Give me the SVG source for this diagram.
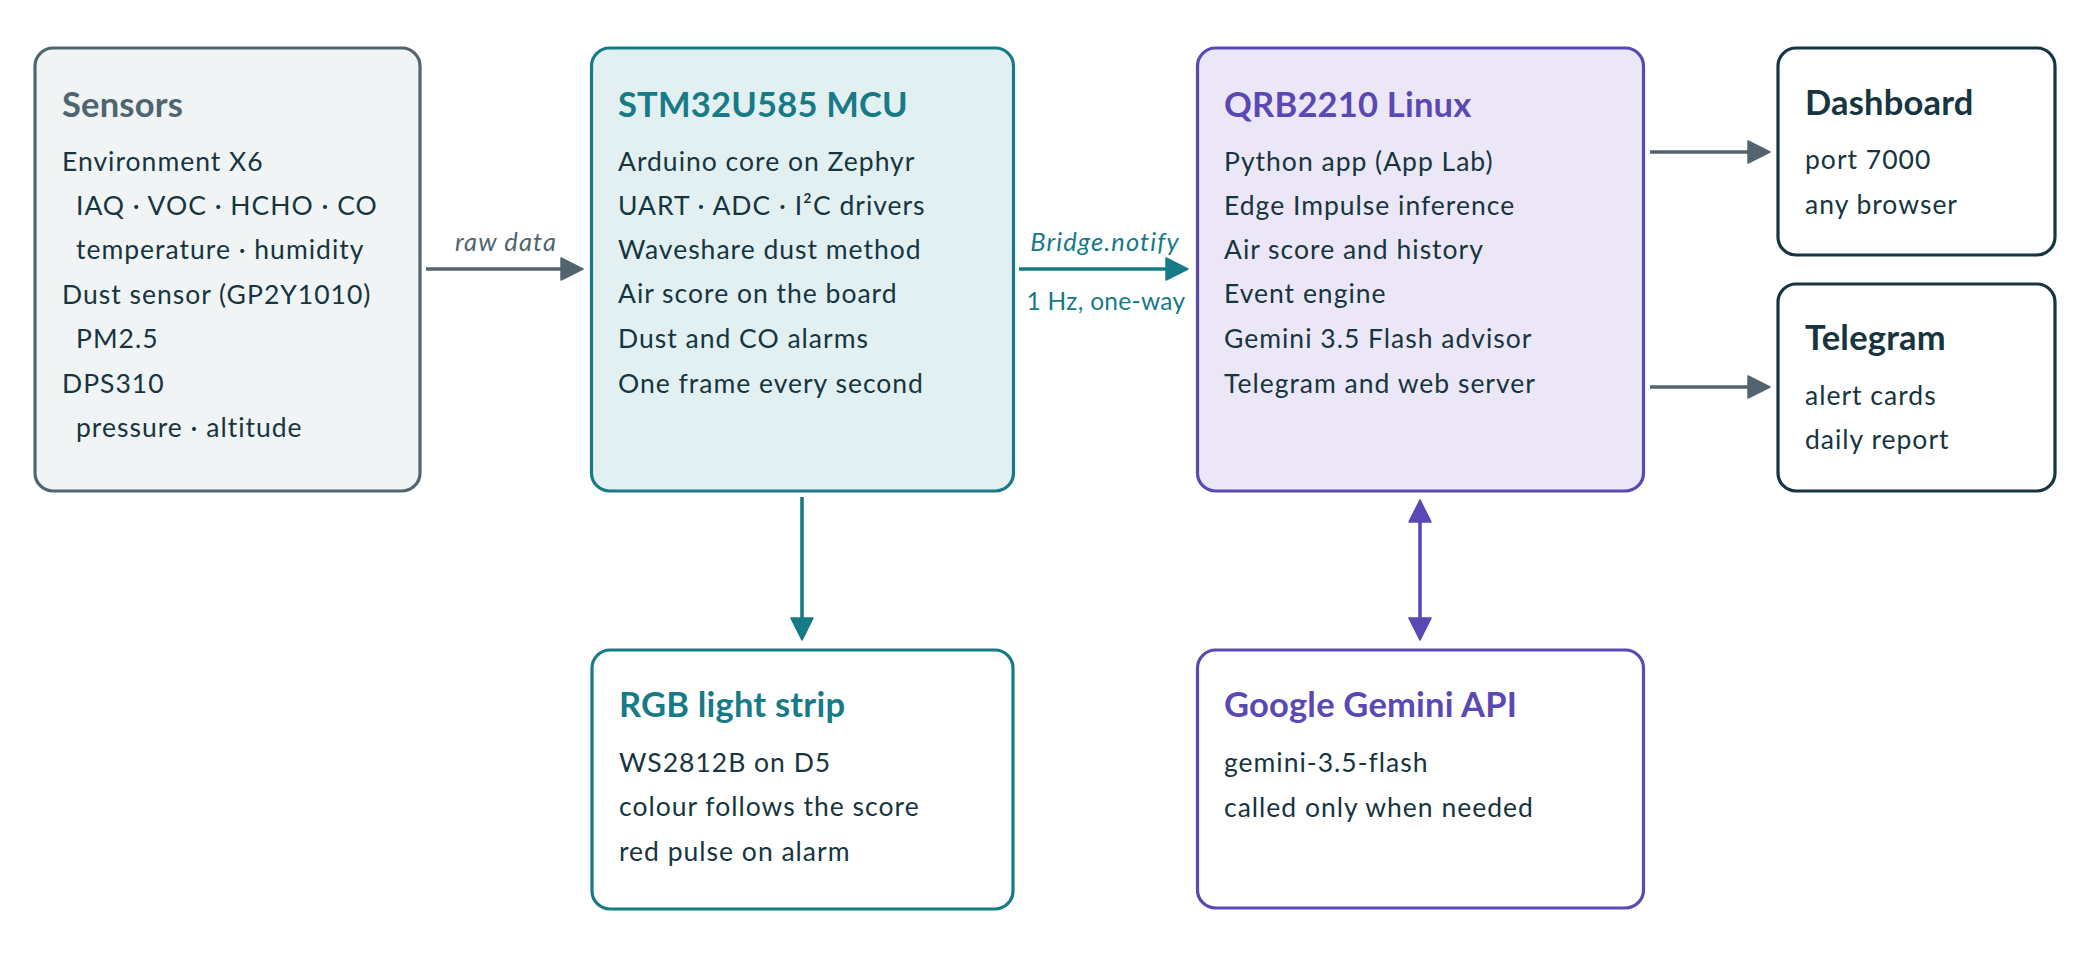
<svg xmlns="http://www.w3.org/2000/svg" width="2089" height="958" viewBox="0 0 2089 958">
<style>
text{font-family:Lato,"Noto Sans","Liberation Sans",sans-serif}
.box{stroke-width:3.2}
.t{font-size:34.5px;font-weight:700;letter-spacing:0.2px}
.b{font-size:26.5px;fill:#163540;letter-spacing:1px}
.li{font-size:25.5px;font-style:italic;letter-spacing:1.1px}
.lr{font-size:24.5px;letter-spacing:0.3px}
.ln{fill:none;stroke-width:3.6}
</style>
<defs>
<marker id="ag" markerUnits="userSpaceOnUse" markerWidth="24" markerHeight="24" viewBox="0 0 22 22" refX="11" refY="11" orient="auto"><path d="M1,1 L21,11 L1,21 z" fill="#52656e" stroke="#52656e" stroke-width="1.5" stroke-linejoin="round"/></marker>
<marker id="at" markerUnits="userSpaceOnUse" markerWidth="24" markerHeight="24" viewBox="0 0 22 22" refX="11" refY="11" orient="auto"><path d="M1,1 L21,11 L1,21 z" fill="#177a87" stroke="#177a87" stroke-width="1.5" stroke-linejoin="round"/></marker>
<marker id="ap" markerUnits="userSpaceOnUse" markerWidth="24" markerHeight="24" viewBox="0 0 22 22" refX="11" refY="11" orient="auto-start-reverse"><path d="M1,1 L21,11 L1,21 z" fill="#5a49b4" stroke="#5a49b4" stroke-width="1.5" stroke-linejoin="round"/></marker>
</defs>
<rect width="2089" height="958" fill="#ffffff"/>
<g id="connectors">
<line class="ln" x1="426" y1="269" x2="572" y2="269" stroke="#52656e" marker-end="url(#ag)"/>
<text class="li" x="506" y="251" text-anchor="middle" fill="#52656e">raw data</text>
<line class="ln" x1="1019" y1="269" x2="1177" y2="269" stroke="#177a87" marker-end="url(#at)"/>
<text class="li" x="1105" y="251" text-anchor="middle" fill="#177a87">Bridge.notify</text>
<text class="lr" x="1106" y="310" text-anchor="middle" fill="#177a87">1 Hz, one-way</text>
<line class="ln" x1="802" y1="497" x2="802" y2="629" stroke="#177a87" marker-end="url(#at)"/>
<line class="ln" x1="1650" y1="152" x2="1759" y2="152" stroke="#52656e" marker-end="url(#ag)"/>
<line class="ln" x1="1650" y1="387" x2="1759" y2="387" stroke="#52656e" marker-end="url(#ag)"/>
<line class="ln" x1="1420" y1="511" x2="1420" y2="629" stroke="#5a49b4" marker-start="url(#ap)" marker-end="url(#ap)"/>
</g>
<g id="sensors">
<rect class="box" x="35" y="48" width="385" height="443" rx="18" fill="#f0f4f5" stroke="#52656e"/>
<text class="t" x="62" y="117" fill="#4e6570">Sensors</text>
<text class="b" x="62" y="171">Environment X6</text>
<text class="b" x="76" y="215" letter-spacing="0.3">IAQ · VOC · HCHO · CO</text>
<text class="b" x="76" y="259" letter-spacing="1.3">temperature · humidity</text>
<text class="b" x="62" y="304">Dust sensor (GP2Y1010)</text>
<text class="b" x="76" y="348">PM2.5</text>
<text class="b" x="62" y="393">DPS310</text>
<text class="b" x="76" y="437">pressure · altitude</text>
</g>
<g id="mcu">
<rect class="box" x="591.5" y="48" width="422" height="443" rx="18" fill="#e2f0f1" stroke="#177a87"/>
<text class="t" x="618" y="117" fill="#177a87">STM32U585 MCU</text>
<text class="b" x="618" y="171">Arduino core on Zephyr</text>
<text class="b" x="618" y="215">UART · ADC · I²C drivers</text>
<text class="b" x="618" y="259">Waveshare dust method</text>
<text class="b" x="618" y="303">Air score on the board</text>
<text class="b" x="618" y="348">Dust and CO alarms</text>
<text class="b" x="618" y="393">One frame every second</text>
</g>
<g id="qrb">
<rect class="box" x="1197.5" y="48" width="446" height="443" rx="18" fill="#ece7f6" stroke="#5a49b4"/>
<text class="t" x="1224" y="117" fill="#5a49b4">QRB2210 Linux</text>
<text class="b" x="1224" y="171">Python app (App Lab)</text>
<text class="b" x="1224" y="215">Edge Impulse inference</text>
<text class="b" x="1224" y="259">Air score and history</text>
<text class="b" x="1224" y="303">Event engine</text>
<text class="b" x="1224" y="348">Gemini 3.5 Flash advisor</text>
<text class="b" x="1224" y="393">Telegram and web server</text>
</g>
<g id="dashboard">
<rect class="box" x="1778" y="48" width="277" height="207" rx="18" fill="#ffffff" stroke="#163540"/>
<text class="t" x="1805" y="115" fill="#163540">Dashboard</text>
<text class="b" x="1805" y="169">port 7000</text>
<text class="b" x="1805" y="214">any browser</text>
</g>
<g id="telegram">
<rect class="box" x="1778" y="284" width="277" height="207" rx="18" fill="#ffffff" stroke="#163540"/>
<text class="t" x="1805" y="350" fill="#163540">Telegram</text>
<text class="b" x="1805" y="405">alert cards</text>
<text class="b" x="1805" y="449">daily report</text>
</g>
<g id="rgb">
<rect class="box" x="592" y="650" width="421" height="259" rx="18" fill="#ffffff" stroke="#177a87"/>
<text class="t" x="619" y="717" fill="#177a87">RGB light strip</text>
<text class="b" x="619" y="772">WS2812B on D5</text>
<text class="b" x="619" y="816">colour follows the score</text>
<text class="b" x="619" y="861">red pulse on alarm</text>
</g>
<g id="gemini">
<rect class="box" x="1197.5" y="650" width="446" height="258" rx="18" fill="#ffffff" stroke="#5a49b4"/>
<text class="t" x="1224" y="717" fill="#5a49b4">Google Gemini API</text>
<text class="b" x="1224" y="772">gemini-3.5-flash</text>
<text class="b" x="1224" y="817">called only when needed</text>
</g>
</svg>
